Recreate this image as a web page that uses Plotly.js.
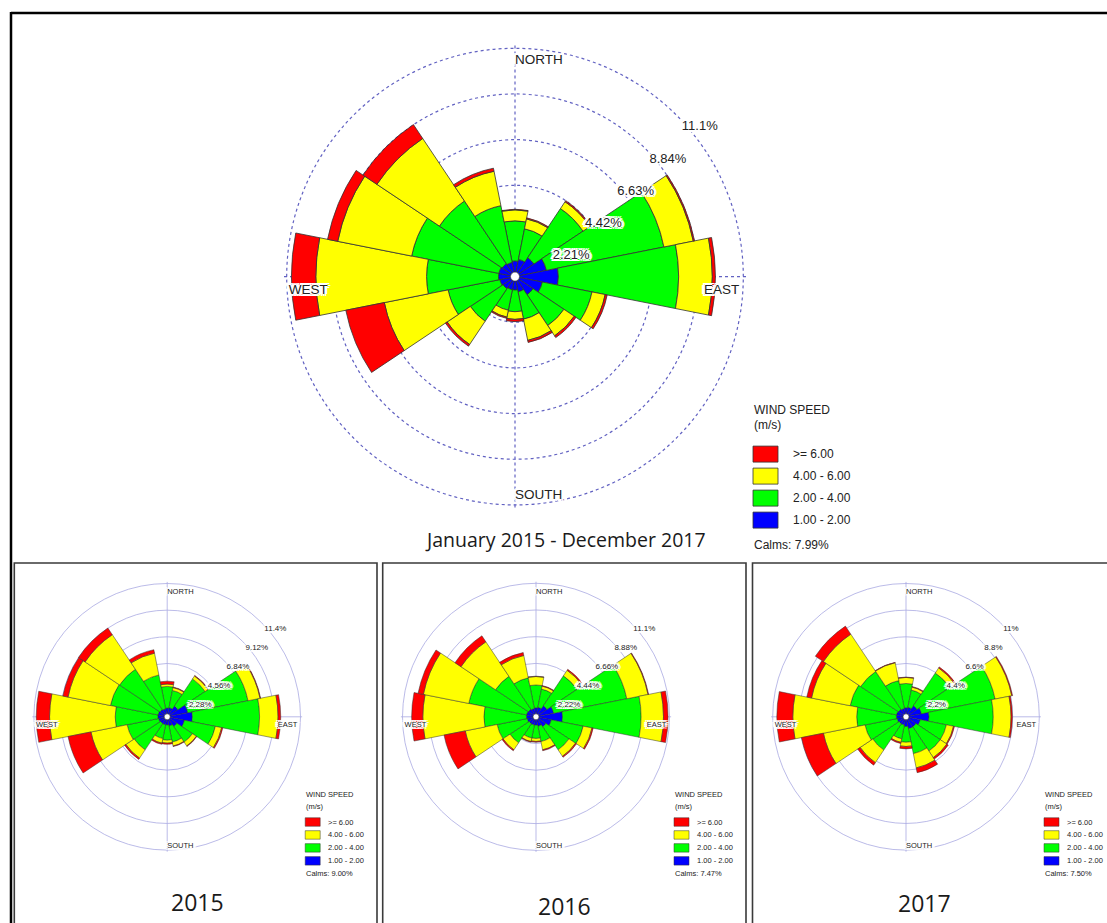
<!DOCTYPE html>
<html>
<head>
<meta charset="utf-8">
<script src="https://cdn.plot.ly/plotly-3.0.1.min.js"></script>
<style>
html,body{margin:0;padding:0;background:#fff;}
#chart{width:1107px;height:923px;}
</style>
</head>
<body>
<div id="chart"></div>
<script>
// ---------------- DATA ----------------
const directions = [0, 22.5, 45, 67.5, 90, 112.5, 135, 157.5, 180, 202.5, 225, 247.5, 270, 292.5, 315, 337.5];
const directionNames = ['N','NNE','NE','ENE','E','ESE','SE','SSE','S','SSW','SW','WSW','W','WNW','NW','NNW'];
const speedBins = ['1.00 - 2.00', '2.00 - 4.00', '4.00 - 6.00', '>= 6.00'];
const binColors = ['#0000FF', '#00FF00', '#FFFF00', '#FF0000'];

// January 2015 - December 2017 (frequency %, per speed class)
const all_1to2 = [0.76, 0.85, 1.10, 1.55, 2.10, 1.35, 1.05, 0.75, 0.65, 0.65, 0.70, 0.75, 0.80, 0.80, 0.75, 0.70];
const all_2to4 = [1.94, 1.51, 2.86, 5.80, 5.82, 2.45, 1.80, 1.35, 1.05, 1.01, 1.90, 2.55, 3.48, 4.30, 3.65, 2.80];
const all_4to6 = [0.53, 0.49, 0.40, 1.45, 1.63, 0.65, 0.60, 1.05, 0.37, 0.34, 1.35, 3.15, 5.36, 3.65, 3.64, 1.70];
const all_6up  = [0.03, 0.05, 0.06, 0.06, 0.15, 0.10, 0.10, 0.10, 0.11, 0.06, 0.10, 1.90, 1.18, 0.50, 0.81, 0.15];

// 2015
const y2015_1to2 = [0.75, 0.80, 1.10, 1.80, 2.15, 1.50, 1.00, 0.80, 0.70, 0.70, 0.70, 0.75, 0.80, 0.80, 0.75, 0.70];
const y2015_2to4 = [1.85, 1.50, 2.80, 5.25, 5.75, 2.70, 1.60, 1.40, 1.30, 1.20, 2.70, 2.75, 3.65, 4.15, 4.15, 2.95];
const y2015_4to6 = [0.20, 0.25, 0.30, 1.05, 1.58, 0.55, 0.40, 0.35, 0.25, 0.40, 0.85, 3.15, 5.61, 3.70, 3.55, 1.90];
const y2015_6up  = [0.25, 0.05, 0.05, 0.05, 0.23, 0.10, 0.05, 0.05, 0.10, 0.10, 0.13, 2.00, 1.14, 0.45, 0.68, 0.30];

// 2016
const y2016_1to2 = [0.75, 0.80, 1.10, 1.50, 2.20, 1.30, 1.00, 0.80, 0.70, 0.70, 0.70, 0.75, 0.80, 0.80, 0.75, 0.70];
const y2016_2to4 = [1.90, 1.55, 3.00, 6.20, 6.54, 2.70, 2.30, 1.30, 1.10, 1.10, 1.90, 2.55, 3.53, 4.90, 3.30, 2.60];
const y2016_4to6 = [0.70, 0.25, 0.55, 1.80, 1.86, 0.75, 0.65, 0.70, 0.25, 0.30, 0.70, 2.70, 5.08, 3.85, 3.45, 1.90];
const y2016_6up  = [0.03, 0.05, 0.10, 0.05, 0.38, 0.10, 0.10, 0.08, 0.07, 0.05, 0.10, 1.80, 0.93, 0.45, 0.60, 0.25];

// 2017
const y2017_1to2 = [0.75, 0.80, 1.10, 1.30, 1.90, 1.20, 1.00, 1.00, 0.80, 0.70, 0.70, 0.75, 0.80, 0.80, 0.75, 0.70];
const y2017_2to4 = [2.00, 1.45, 3.25, 6.20, 5.30, 2.20, 2.40, 2.10, 1.30, 1.15, 2.60, 2.70, 3.27, 3.90, 3.75, 2.35];
const y2017_4to6 = [0.50, 0.25, 0.50, 1.40, 1.47, 0.60, 0.65, 1.20, 0.35, 0.30, 1.25, 3.50, 5.27, 3.25, 3.70, 1.50];
const y2017_6up  = [0.03, 0.05, 0.10, 0.07, 0.11, 0.08, 0.15, 0.40, 0.20, 0.10, 0.25, 1.85, 1.32, 0.40, 0.80, 0.03];

// ring values and their labels
const ringsAll  = [2.21, 4.42, 6.63, 8.84, 11.05];
const ringTextAll  = ['2.21%', '4.42%', '6.63%', '8.84%', '11.1%'];
const rings2015 = [2.28, 4.56, 6.84, 9.12, 11.4];
const ringText2015 = ['2.28%', '4.56%', '6.84%', '9.12%', '11.4%'];
const rings2016 = [2.22, 4.44, 6.66, 8.88, 11.1];
const ringText2016 = ['2.22%', '4.44%', '6.66%', '8.88%', '11.1%'];
const rings2017 = [2.2, 4.4, 6.6, 8.8, 11];
const ringText2017 = ['2.2%', '4.4%', '6.6%', '8.8%', '11%'];

const compassText = ['NORTH', 'EAST', 'SOUTH', 'WEST'];
const compassTheta = [0, 90, 180, 270];
const calmsText = ['Calms: 7.99%', 'Calms: 9.00%', 'Calms: 7.47%', 'Calms: 7.50%'];
const panelTitles = ['January 2015 - December 2017', '2015', '2016', '2017'];

// ---------------- LAYOUT CONFIG ----------------
const W = 1107, H = 923;
const px = v => v / W;
const py = v => 1 - v / H;

const panels = [
  {id:'polar',  bins:[all_1to2, all_2to4, all_4to6, all_6up], rings:ringsAll, ringText:ringTextAll,
   cx:515, cy:276.6, R:228.3, big:true, title:{x:565, y:539, size:19.5}},
  {id:'polar2', bins:[y2015_1to2, y2015_2to4, y2015_4to6, y2015_6up], rings:rings2015, ringText:ringText2015,
   cx:167.2, cy:716.8, R:133.3, big:false, title:{x:197.5, y:902, size:23}},
  {id:'polar3', bins:[y2016_1to2, y2016_2to4, y2016_4to6, y2016_6up], rings:rings2016, ringText:ringText2016,
   cx:536, cy:716.8, R:133.5, big:false, title:{x:564, y:906, size:23}},
  {id:'polar4', bins:[y2017_1to2, y2017_2to4, y2017_4to6, y2017_6up], rings:rings2017, ringText:ringText2017,
   cx:906, cy:716.8, R:133.3, big:false, title:{x:924, y:903, size:23}}
];

// pixel nudges of the compass labels: [inward px, along-ring px (positive = downward)]
const compassNudgeBig   = [[6, 0], [4, 7], [3, 0], [2, -7]];
const compassNudgeSmall = [[5, 0], [3, 5], [0, 0], [2, -5]];

const whiteShadow = '1px 0 0 #fff, -1px 0 0 #fff, 0 1px 0 #fff, 0 -1px 0 #fff, 2px 0 0 #fff, -2px 0 0 #fff, 0 2px 0 #fff, 0 -2px 0 #fff, 2px 2px 0 #fff, -2px -2px 0 #fff, 2px -2px 0 #fff, -2px 2px 0 #fff, 3px 0 0 #fff, -3px 0 0 #fff';

const traces = [];
const layout = {
  width: W, height: H,
  margin: {l:0, r:0, t:0, b:0},
  paper_bgcolor: '#ffffff',
  plot_bgcolor: '#ffffff',
  showlegend: false,
  dragmode: false,
  shapes: [],
  annotations: []
};

panels.forEach((p, pi) => {
  const outer = p.rings[p.rings.length - 1];
  const pad = 1.012;
  const rmax = outer * pad;
  const Rd = p.R * pad;
  const gridColor = p.big ? '#6262c2' : '#a9a9e2';
  const gridDash = p.big ? 'dot' : 'solid';
  const gridWidth = p.big ? 1.2 : 0.8;

  layout[p.id] = {
    domain: {x: [px(p.cx - Rd), px(p.cx + Rd)], y: [py(p.cy + Rd), py(p.cy - Rd)]},
    bgcolor: 'rgba(0,0,0,0)',
    barmode: 'stack',
    bargap: 0,
    radialaxis: {
      range: [0, rmax], tickvals: p.rings, showticklabels: false, ticks: '',
      showline: false, gridcolor: gridColor, griddash: gridDash, gridwidth: gridWidth,
      layer: 'below traces'
    },
    angularaxis: {
      direction: 'clockwise', rotation: 90, thetaunit: 'degrees',
      tickvals: compassTheta, showticklabels: false, ticks: '',
      showline: false, gridcolor: gridColor, griddash: gridDash, gridwidth: gridWidth,
      layer: 'below traces'
    }
  };

  // stacked petals
  p.bins.forEach((vals, bi) => {
    traces.push({
      type: 'barpolar', subplot: p.id, name: speedBins[bi],
      r: vals, theta: directions, width: 22.5,
      customdata: directionNames,
      marker: {color: binColors[bi], line: {color: '#333', width: p.big ? 0.8 : 0.5}},
      hoverinfo: 'skip', showlegend: false
    });
  });

  // calm circle
  traces.push({
    type: 'scatterpolar', subplot: p.id, mode: 'markers',
    r: [0], theta: [0],
    marker: {color: '#ffffff', size: p.big ? 9 : 6, line: {color: '#333', width: 0.6}},
    hoverinfo: 'skip', showlegend: false
  });

  // ring labels
  traces.push({
    type: 'scatterpolar', subplot: p.id, mode: 'markers+text', cliponaxis: false,
    r: p.rings, theta: p.rings.map(() => 45), text: p.ringText,
    textposition: 'bottom right',
    marker: {size: p.big ? 7 : 3, color: 'rgba(0,0,0,0)'},
    textfont: {family: 'Arial, Liberation Sans, sans-serif', size: p.big ? 13 : 8, color: '#222', shadow: whiteShadow},
    hoverinfo: 'skip', showlegend: false
  });

  // compass labels
  const nudge = p.big ? compassNudgeBig : compassNudgeSmall;
  traces.push({
    type: 'scatterpolar', subplot: p.id, mode: 'text', cliponaxis: false,
    r: nudge.map(n => outer * (1 - n[0] / p.R)),
    theta: compassTheta.map((t, k) => t + ((k === 1 || k === 3) ? nudge[k][1] / p.R * 180 / Math.PI : 0)),
    text: compassText,
    textposition: ['bottom right', 'bottom left', 'top right', 'bottom right'],
    textfont: {family: 'Arial, Liberation Sans, sans-serif', size: p.big ? 13.5 : 7.5, color: '#222', shadow: whiteShadow},
    hoverinfo: 'skip', showlegend: false
  });

  // panel title
  layout.annotations.push({
    xref: 'paper', yref: 'paper', x: px(p.title.x), y: py(p.title.y),
    xanchor: 'center', yanchor: 'middle', showarrow: false,
    text: panelTitles[pi],
    font: {family: 'Open Sans, Noto Sans, sans-serif', size: p.title.size, color: '#1a1a1a'}
  });

  // legend (drawn from the speed-bin arrays)
  const L = p.big
    ? {dx: 238, title: 133.5, unit: 148.5, row0: 177.5, step: 22, sw: 25, sh: 16, tx: 277, calm: 268, font: 12}
    : {dx: 138, title: 77.5, unit: 89.5, row0: 105.2, step: 12.95, sw: 15, sh: 8.5, tx: 160, calm: 157, font: 7.5};
  const lx = p.cx + L.dx;
  const legFont = {family: 'Arial, Liberation Sans, sans-serif', size: L.font, color: '#222'};
  layout.annotations.push({xref:'paper', yref:'paper', x: px(lx - 1), y: py(p.cy + L.title), xanchor:'left', yanchor:'middle',
    showarrow:false, text:'WIND SPEED', font: legFont});
  layout.annotations.push({xref:'paper', yref:'paper', x: px(lx - 1), y: py(p.cy + L.unit), xanchor:'left', yanchor:'middle',
    showarrow:false, text:'(m/s)', font: legFont});
  for (let k = 0; k < speedBins.length; k++) {
    const bi = speedBins.length - 1 - k;   // top row = highest class
    const yc = p.cy + L.row0 + k * L.step;
    layout.shapes.push({type:'rect', xref:'paper', yref:'paper',
      x0: px(lx), x1: px(lx + L.sw), y0: py(yc + L.sh/2), y1: py(yc - L.sh/2),
      fillcolor: binColors[bi], line: {color: '#333', width: p.big ? 0.8 : 0.5}});
    layout.annotations.push({xref:'paper', yref:'paper', x: px(p.cx + L.tx - 1), y: py(yc), xanchor:'left', yanchor:'middle',
      showarrow:false, text: speedBins[bi].replace('>=', '&gt;='), font: legFont});
  }
  layout.annotations.push({xref:'paper', yref:'paper', x: px(lx - 1), y: py(p.cy + L.calm), xanchor:'left', yanchor:'middle',
    showarrow:false, text: calmsText[pi], font: legFont});
});

// frames
layout.shapes.push({type:'line', xref:'paper', yref:'paper', x0:px(11), x1:px(1110), y0:py(13), y1:py(13), line:{color:'#000', width:2.5}});
layout.shapes.push({type:'line', xref:'paper', yref:'paper', x0:px(11), x1:px(11), y0:py(12), y1:py(930), line:{color:'#000', width:2.5}});
[[14.3, 377], [382.7, 746], [752.5, 1115]].forEach(b => {
  layout.shapes.push({type:'rect', xref:'paper', yref:'paper', x0:px(b[0]), x1:px(b[1]), y0:py(930), y1:py(563),
    line:{color:'#3a3a3a', width:1.6}, fillcolor:'rgba(0,0,0,0)'});
});

Plotly.newPlot('chart', traces, layout, {displayModeBar: false, staticPlot: true});
</script>
</body>
</html>
